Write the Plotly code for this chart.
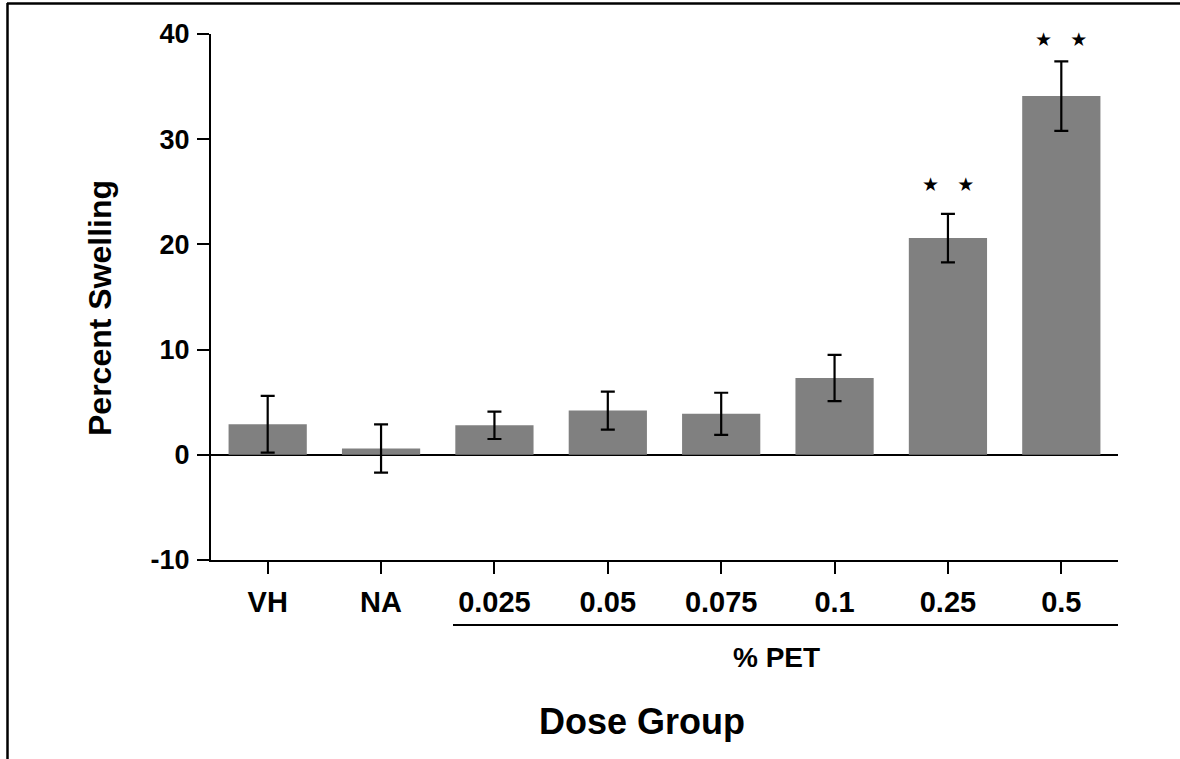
import plotly.graph_objects as go

categories = ["VH", "NA", "0.025", "0.05", "0.075", "0.1", "0.25", "0.5"]
means = [2.9, 0.6, 2.8, 4.2, 3.9, 7.3, 20.6, 34.1]
errors = [2.7, 2.3, 1.3, 1.8, 2.0, 2.2, 2.3, 3.3]
y_ticks = [-10, 0, 10, 20, 30, 40]
y_ticktext = ["-10", "0", "10", "20", "30", "40"]
sig_categories = ["0.25", "0.5"]
sig_y = [25.7, 39.5]
sig_text = ["★   ★", "★   ★"]

FONT = "Liberation Sans"

fig = go.Figure()
fig.add_trace(go.Bar(
    x=categories, y=means,
    marker=dict(color="#808080", line=dict(width=0)),
    width=0.69,
    error_y=dict(type="data", array=errors, visible=True,
                 color="black", thickness=2.2, width=7),
    hoverinfo="skip",
))

L, R, T, B = 211, 62, 34, 199
W, H = 1180, 759
pw, ph = W - L - R, H - T - B

def px(x):
    return (x - L) / pw

def py(y):
    return (H - B - y) / ph

annotations = []
for c, yv, t in zip(sig_categories, sig_y, sig_text):
    annotations.append(dict(x=categories.index(c), y=yv, xref="x", yref="y", text=t,
                            showarrow=False, xanchor="center", yanchor="middle",
                            font=dict(family="DejaVu Sans", size=19, color="black")))

annotations += [
    dict(x=px(776), y=py(657), xref="paper", yref="paper", text="<b>% PET</b>",
         xanchor="center", yanchor="middle",
         showarrow=False, font=dict(family=FONT, size=28, color="black")),
    dict(x=px(642), y=py(721), xref="paper", yref="paper", text="<b>Dose Group</b>",
         xanchor="center", yanchor="middle",
         showarrow=False, font=dict(family=FONT, size=36, color="black")),
    dict(x=px(100), y=py(308), xref="paper", yref="paper", text="<b>Percent Swelling</b>",
         xanchor="center", yanchor="middle",
         textangle=-90, showarrow=False, font=dict(family=FONT, size=32, color="black")),
]

shapes = [
    dict(type="line", xref="paper", yref="paper", x0=px(453), x1=px(1118),
         y0=py(625), y1=py(625), line=dict(color="black", width=2.2)),
    # figure frame (left and top)
    dict(type="line", xref="paper", yref="paper", x0=px(7.5), x1=px(7.5),
         y0=py(3), y1=py(770), line=dict(color="black", width=2.5)),
    dict(type="line", xref="paper", yref="paper", x0=px(7), x1=px(1185),
         y0=py(3.5), y1=py(3.5), line=dict(color="black", width=2.5)),
]

fig.update_layout(
    width=W, height=H,
    margin=dict(l=L, r=R, t=T, b=B),
    paper_bgcolor="white", plot_bgcolor="white",
    showlegend=False,
    annotations=annotations,
    shapes=shapes,
)
fig.update_xaxes(
    type="category", range=[-0.5, 7.5],
    showline=True, linecolor="black", linewidth=2.2,
    ticks="outside", ticklen=12, tickwidth=2, tickcolor="black",
    ticklabelstandoff=3,
    tickfont=dict(family=FONT, size=29, color="black", weight="bold"),
    showgrid=False, zeroline=False,
)
fig.update_yaxes(
    range=[-10, 40], tickvals=y_ticks, ticktext=y_ticktext,
    showline=True, linecolor="black", linewidth=2.2,
    ticks="outside", ticklen=12, tickwidth=2, tickcolor="black",
    ticklabelstandoff=2,
    tickfont=dict(family=FONT, size=27, color="black", weight="bold"),
    showgrid=False, zeroline=True, zerolinecolor="black", zerolinewidth=2.2,
)

fig.write_html("out.html", config={"displayModeBar": False},
               post_script="document.body.style.margin='0px';")
